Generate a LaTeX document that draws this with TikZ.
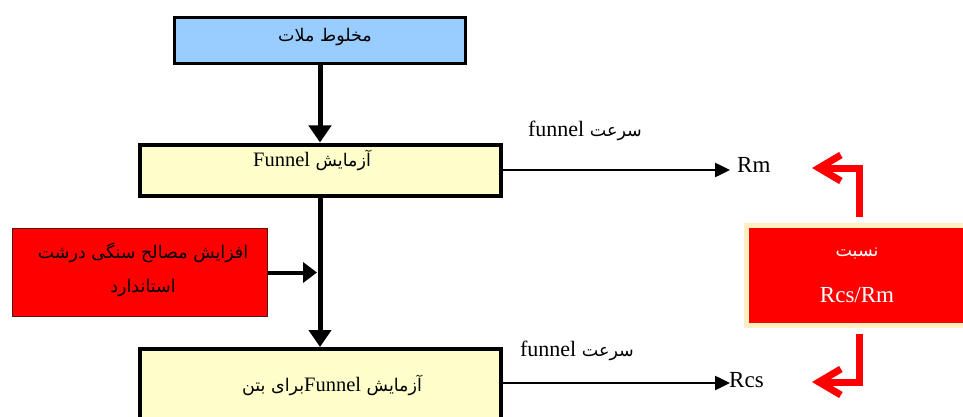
\documentclass[tikz,border=0pt]{standalone}
\usepackage{fontspec}
\setmainfont{Liberation Serif}
\newfontfamily\fa[Script=Arabic]{DejaVu Sans}
\newfontfamily\lat{Liberation Serif}
\TeXXeTstate=1
\usetikzlibrary{arrows.meta,calc}
\definecolor{boxblue}{RGB}{153,204,255}
\definecolor{boxyellow}{RGB}{255,255,204}
\definecolor{glowcol}{RGB}{255,240,195}
\definecolor{darkred}{RGB}{90,20,20}
\begin{document}
\begin{tikzpicture}[x=1pt,y=-1pt,
  every node/.style={inner sep=0pt},
  bluebox/.style={draw=black,line width=3pt,fill=boxblue,minimum width=291pt,minimum height=46pt},
  yelbox/.style={draw=black,line width=4pt,fill=boxyellow,minimum width=361pt},
  leftred/.style={draw=darkred,line width=1.5pt,fill=red,minimum width=255pt,minimum height=88pt},
  rightred/.style={draw=glowcol,line width=5pt,fill=red,minimum width=222pt,minimum height=100pt},
  fatext/.style={font=\fa\fontsize{17.5}{20}\selectfont},
  latext/.style={font=\lat\fontsize{23}{26}\selectfont},
  thickflow/.style={draw=black,line width=5pt,-{Triangle[length=17pt,width=22pt]}},
  sideflow/.style={draw=black,line width=4pt,-{Triangle[length=14pt,width=20pt]}},
  outflow/.style={draw=black,line width=2.5pt,-{Triangle[length=15pt,width=14pt]}},
  redflow/.style={draw=red,line width=7pt,-{Straight Barb[length=22pt,width=26pt]}}
]
\clip (0,0) rectangle (963,417);
\fill[white] (0,0) rectangle (963,417);
% boxes
\node[bluebox] (mix) at (320,40.5) {};
\node[yelbox,minimum height=51pt] (f1) at (320,170) {};
\node[leftred] (add) at (140,272.5) {};
\node[yelbox,minimum height=82pt] (f2) at (320,390) {};
\node[rightred] (ratio) at (857,275) {};
% texts
\node[fatext] (tmix) at (325,37) {\beginR مخلوط ملات\endR};
\node[fatext] (tf1) at (312,160) {\beginR آزمایش \beginL{\lat\fontsize{20.5}{24}\selectfont Funnel}\endL\endR};
\node[fatext] (tadd1) at (143,253) {\beginR افزایش مصالح سنگی درشت\endR};
\node[fatext] (tadd2) at (143,288) {\beginR استاندارد\endR};
\node[fatext] (tf2) at (332,385) {\beginR آزمایش \beginL{\lat\fontsize{20.5}{24}\selectfont Funnel}\endL برای بتن\endR};
\node[fatext] (lab1) at (585,131) {\beginR سرعت \beginL{\lat\fontsize{22}{24}\selectfont funnel}\endL\endR};
\node[fatext] (lab2) at (577,351) {\beginR سرعت \beginL{\lat\fontsize{22}{24}\selectfont funnel}\endL\endR};
\node[latext,anchor=west] (rm) at (737,165) {Rm};
\node[latext,anchor=west] (rcs) at (729,380) {Rcs};
\node[fatext,text=white] (t1) at (857,254) {\beginR نسبت\endR};
\node[latext,text=white] (t2) at (857,295) {Rcs/Rm};
% connectors
\coordinate (rmtip) at (730,170);
\coordinate (rcstip) at (730,383);
\coordinate (redtop) at (812,168);
\coordinate (redbot) at (812,382);
\draw[thickflow] (mix.south) -- (mix.south |- f1.north);
\draw[thickflow] (f1.south) -- (f1.south |- f2.north);
\draw[sideflow,shorten >=3pt] (add.east) -- (add.east -| f1.south);
\draw[outflow] (f1.east) -- (f1.east -| rmtip);
\draw[outflow] (f2.east |- rcstip) -- (rcstip);
\draw[redflow,shorten <=6pt] ([xshift=2pt]ratio.north) |- (redtop);
\draw[redflow,shorten <=6pt] ([xshift=2pt]ratio.south) |- (redbot);
\end{tikzpicture}
\end{document}
